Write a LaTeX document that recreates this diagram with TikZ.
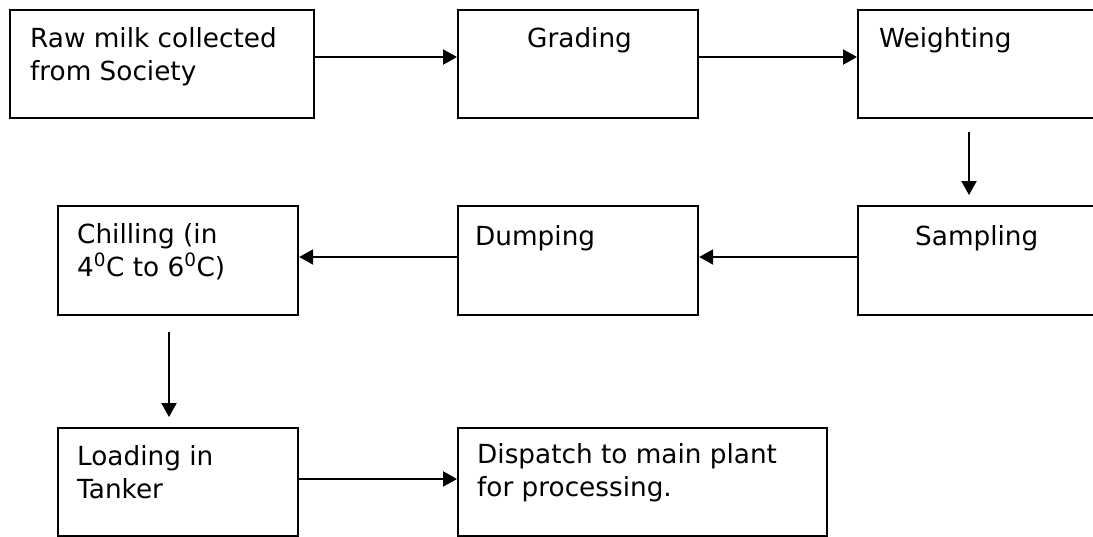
\documentclass[tikz,border=0pt]{standalone}
\usepackage{fontspec}
\setmainfont{DejaVu Sans}
\usetikzlibrary{arrows.meta}
\begin{document}
\begin{tikzpicture}[x=1pt,y=-1pt,
  box/.style={draw, line width=2.2pt, rectangle, anchor=north west, inner sep=0pt},
  lbl/.style={anchor=base west, inner sep=0pt, font=\fontsize{26.3}{33}\selectfont, align=left},
  arr/.style={line width=2.2pt, -{Triangle[length=14pt,width=15pt]}}]
\useasboundingbox (0,0) rectangle (1093,536);
\clip (0,0) rectangle (1093,536);
% boxes
\node[box, minimum width=304pt, minimum height=108pt] (raw) at (9,9) {};
\node[box, minimum width=240pt, minimum height=108pt] (grad) at (457,9) {};
\node[box, minimum width=260pt, minimum height=108pt] (weig) at (857,9) {};
\node[box, minimum width=260pt, minimum height=109pt] (samp) at (857,205) {};
\node[box, minimum width=240pt, minimum height=109pt] (dump) at (457,205) {};
\node[box, minimum width=240pt, minimum height=109pt] (chil) at (57,205) {};
\node[box, minimum width=240pt, minimum height=108pt] (load) at (57,427) {};
\node[box, minimum width=369pt, minimum height=108pt] (disp) at (457,427) {};
% texts (multi-line nodes: base = last line)
\node[lbl] (traw) at (30,80) {Raw milk collected\\from Society};
\node[lbl] (tgrad) at (527,47) {Grading};
\node[lbl] (tweig) at (879,47) {Weighting};
\node[lbl] (tsamp) at (915,245) {Sampling};
\node[lbl] (tdump) at (475,245) {Dumping};
\node[lbl] (tchil) at (77,276) {Chilling (in\\4\textsuperscript{0}C to 6\textsuperscript{0}C)};
\node[lbl] (tload) at (77,498) {Loading in\\Tanker};
\node[lbl] (tdisp) at (477,496) {Dispatch to main plant\\for processing.};
% connector end points
\coordinate (wdA) at (969,132);
\coordinate (wdB) at (969,195);
\coordinate (cdA) at (169,332);
\coordinate (cdB) at (169,417);
% arrows
\draw[arr] (raw.east |- 0,57) -- (grad.west |- 0,57);
\draw[arr] (grad.east |- 0,57) -- (weig.west |- 0,57);
\draw[arr] (wdA) -- (wdB);
\draw[arr] (samp.west |- 0,257) -- (dump.east |- 0,257);
\draw[arr] (dump.west |- 0,257) -- (chil.east |- 0,257);
\draw[arr] (cdA) -- (cdB);
\draw[arr] (load.east |- 0,479) -- (disp.west |- 0,479);
\end{tikzpicture}
\end{document}
